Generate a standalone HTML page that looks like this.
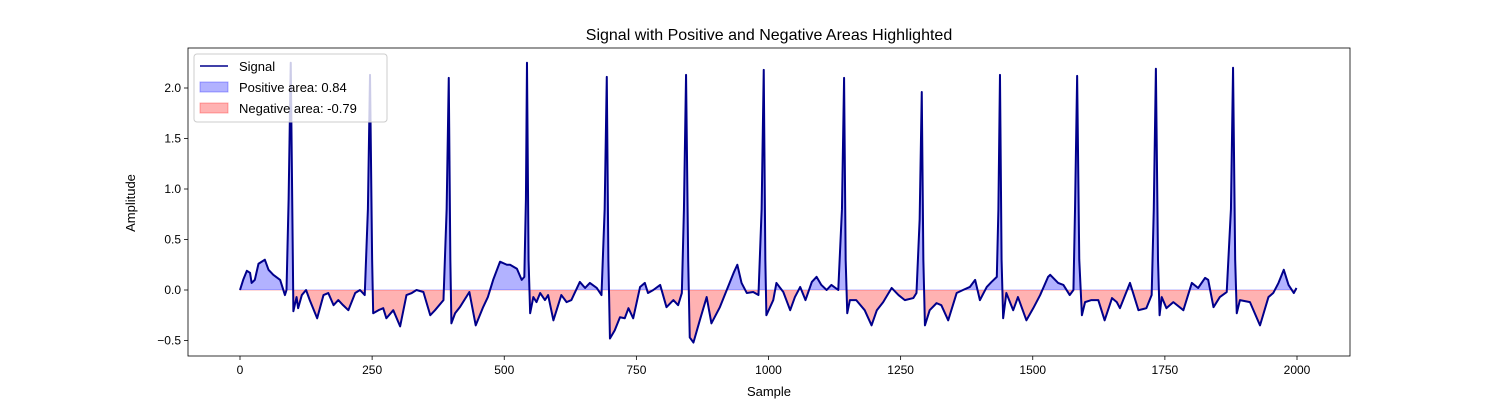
<!DOCTYPE html>
<html><head><meta charset="utf-8"><style>
body{margin:0;background:#fff;}
svg text{font-family:"Liberation Sans","DejaVu Sans",sans-serif;fill:#000;}
</style></head><body>
<svg id="chart" width="1500" height="400" xmlns="http://www.w3.org/2000/svg"></svg>
<script>
const samples=[0,6,13,19,22,28,35,41,47,54,63,76,85,88,92,96,100,101,107,110,117,125,132,146,158,167,177,186,195,205,218,227,236,242,246,250,252,262,271,277,290,303,315,325,334,347,360,369,385,391,395,398,400,407,416,434,446,460,469,479,492,505,511,524,533,538,541,543,546,549,555,561,568,577,583,593,608,618,627,643,653,662,675,684,690,694,697,700,709,719,728,735,744,757,766,772,782,795,807,820,829,836,840,844,848,851,858,870,883,892,908,921,934,941,949,959,971,981,987,991,994,996,1009,1015,1028,1041,1050,1060,1070,1082,1091,1100,1110,1119,1132,1139,1143,1146,1149,1154,1166,1182,1195,1205,1217,1233,1246,1258,1274,1280,1286,1290,1293,1296,1305,1318,1327,1340,1356,1368,1381,1391,1400,1413,1422,1432,1435,1438,1441,1444,1450,1463,1472,1488,1501,1514,1529,1533,1548,1558,1570,1577,1580,1584,1588,1593,1599,1611,1624,1636,1650,1659,1665,1684,1700,1715,1725,1729,1733,1737,1740,1744,1753,1766,1785,1801,1813,1826,1832,1842,1854,1867,1875,1879,1883,1886,1892,1911,1930,1946,1955,1965,1975,1984,1994,1999];
const values=[0,0.10,0.19,0.17,0.07,0.10,0.26,0.28,0.30,0.20,0.15,0.10,-0.05,0,0.9,2.25,0.3,-0.21,-0.07,-0.18,-0.05,0,-0.10,-0.28,-0.05,-0.03,-0.15,-0.10,-0.15,-0.20,-0.03,0,-0.05,0.8,2.13,0.3,-0.23,-0.20,-0.18,-0.28,-0.20,-0.36,-0.05,-0.03,0,-0.02,-0.25,-0.20,-0.10,0.8,2.10,0.3,-0.33,-0.23,-0.17,-0.02,-0.35,-0.17,-0.07,0.10,0.28,0.25,0.25,0.21,0.10,0.13,0.9,2.25,0.3,-0.23,-0.07,-0.12,-0.03,-0.10,-0.05,-0.30,-0.05,-0.12,-0.10,0.08,0.02,0.07,0.02,-0.05,0.8,2.11,0.3,-0.48,-0.40,-0.27,-0.28,-0.18,-0.28,0.03,0.07,-0.03,0,0.05,-0.17,-0.10,-0.15,-0.03,0.8,2.13,0.3,-0.47,-0.52,-0.30,-0.07,-0.33,-0.17,0,0.17,0.25,0.07,-0.03,-0.02,-0.05,0.8,2.18,0.3,-0.25,-0.10,0.07,-0.02,-0.20,-0.07,0.03,-0.10,0.08,0.13,0.05,0,0.05,0,0.8,2.10,0.3,-0.23,-0.10,-0.10,-0.20,-0.35,-0.20,-0.12,0.02,-0.05,-0.10,-0.08,-0.03,0.7,1.96,0.3,-0.35,-0.20,-0.13,-0.15,-0.30,-0.03,0,0.03,0.10,-0.10,0.03,0.08,0.13,0.8,2.13,0.3,-0.28,-0.03,-0.20,-0.07,-0.30,-0.18,-0.05,0.13,0.15,0.07,0.05,-0.05,0,0.8,2.12,0.3,-0.25,-0.12,-0.10,-0.10,-0.30,-0.08,-0.12,-0.18,0.07,-0.20,-0.18,-0.05,0.8,2.19,0.3,-0.25,-0.07,-0.18,-0.12,-0.20,0.07,0.02,0.12,0.10,-0.17,-0.07,-0.02,0.8,2.20,0.3,-0.23,-0.10,-0.12,-0.35,-0.07,-0.03,0.07,0.20,0.05,-0.03,0.02];
const xTicks=[0,250,500,750,1000,1250,1500,1750,2000];
const yTicks=[-0.5,0.0,0.5,1.0,1.5,2.0];
const yTickLabels=["−0.5","0.0","0.5","1.0","1.5","2.0"];

const svg=document.getElementById('chart');
const NS='http://www.w3.org/2000/svg';
const L=188,R=1350,T=48,B=356;
const xs=v=>240+v*(1297-240)/2000;
const ys=v=>290-v*101;
function mk(tag,attrs,parent){const e=document.createElementNS(NS,tag);for(const k in attrs)e.setAttribute(k,attrs[k]);(parent||svg).appendChild(e);return e;}

const defs=mk('defs',{});
const cpA=mk('clipPath',{id:'above'},defs);mk('rect',{x:L,y:T,width:R-L,height:ys(0)-T},cpA);
const cpB=mk('clipPath',{id:'below'},defs);mk('rect',{x:L,y:ys(0),width:R-L,height:B-ys(0)},cpB);

let line='';
samples.forEach((s,i)=>{line+=(i?'L':'M')+xs(s).toFixed(2)+','+ys(values[i]).toFixed(2);});
const area=line+'L'+xs(samples[samples.length-1])+','+ys(0)+'L'+xs(samples[0])+','+ys(0)+'Z';

const pos=mk('path',{d:area,fill:'#0000ff','fill-opacity':0.3,stroke:'#0000ff','stroke-opacity':0.3,'clip-path':'url(#above)'});


const neg=mk('path',{d:area,fill:'#ff0000','fill-opacity':0.3,stroke:'#ff0000','stroke-opacity':0.3,'clip-path':'url(#below)'});


const sig=mk('path',{d:line,fill:'none',stroke:'#00008b','stroke-width':2,'stroke-linejoin':'round'});



const frame=mk('rect',{x:L,y:T,width:R-L,height:B-T,fill:'none',stroke:'#000','stroke-width':0.8});



xTicks.forEach(t=>{
  const x=xs(t);
  mk('line',{x1:x,x2:x,y1:B,y2:B+4,stroke:'#000','stroke-width':0.8});
  const tx=mk('text',{x:x,y:B+18,'text-anchor':'middle','font-size':12});
  tx.textContent=t;
  
  
});
yTicks.forEach((t,i)=>{
  const y=ys(t);
  mk('line',{x1:L-4,x2:L,y1:y,y2:y,stroke:'#000','stroke-width':0.8});
  const tx=mk('text',{x:L-7,y:y+4,'text-anchor':'end','font-size':12});
  tx.textContent=yTickLabels[i];
  
  
});
</script>
<svg style="position:absolute;left:0;top:0" width="1500" height="400" xmlns="http://www.w3.org/2000/svg">
<text x="769" y="40" text-anchor="middle" font-size="16" style="font-family:'Liberation Sans',sans-serif">Signal with Positive and Negative Areas Highlighted</text>
<text x="769" y="396" text-anchor="middle" font-size="13" style="font-family:'Liberation Sans',sans-serif">Sample</text>
<text x="135" y="203" text-anchor="middle" font-size="13" transform="rotate(-90 135 203)" style="font-family:'Liberation Sans',sans-serif">Amplitude</text>
<g>
<rect x="194" y="54" width="193" height="68" rx="3" fill="#fff" fill-opacity="0.8" stroke="#ccc"/>
<g><line x1="200" x2="228" y1="66" y2="66" stroke="#00008b" stroke-width="1.6"/><text x="239" y="71" font-size="13" style="font-family:'Liberation Sans',sans-serif">Signal</text></g>
<g><rect x="200" y="82" width="28" height="10" fill="#0000ff" fill-opacity="0.3" stroke="#0000ff" stroke-opacity="0.3"/><text x="239" y="92" font-size="13" style="font-family:'Liberation Sans',sans-serif">Positive area: 0.84</text></g>
<g><rect x="200" y="103" width="28" height="10" fill="#ff0000" fill-opacity="0.3" stroke="#ff0000" stroke-opacity="0.3"/><text x="239" y="113" font-size="13" style="font-family:'Liberation Sans',sans-serif">Negative area: -0.79</text></g>
</g>
</svg>
</body></html>
